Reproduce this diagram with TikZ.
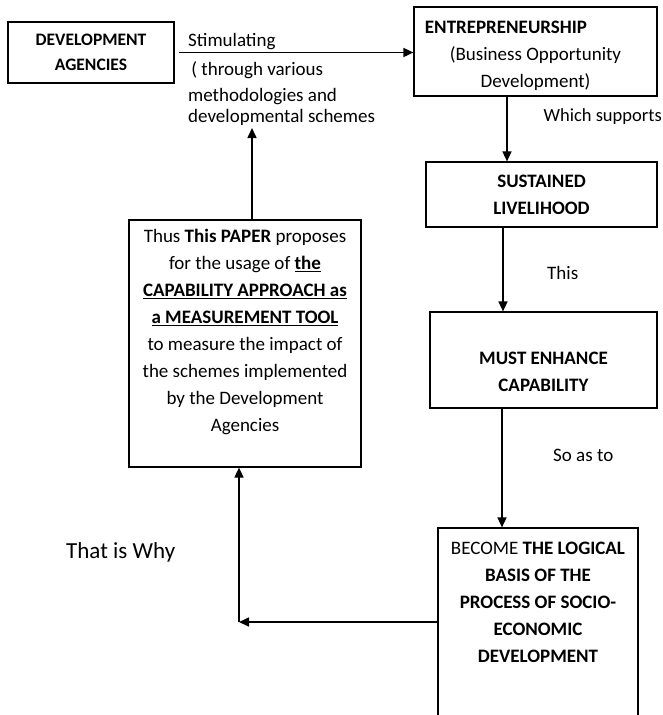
\documentclass[tikz,border=0pt]{standalone}
\usepackage{fontspec}
\setmainfont{Carlito}
\usetikzlibrary{arrows.meta, positioning}

\tikzset{
  box/.style={draw, line width=1.2pt, inner sep=0pt, align=center,
    font=\fontsize{19}{27}\selectfont},
  flow/.style={-{Triangle[length=10pt,width=9pt]}, line width=1.6pt},
  note/.style={inner sep=0pt, align=left, font=\fontsize{19}{26}\selectfont},
}

\begin{document}
\begin{tikzpicture}[x=1pt, y=-1pt]
  \useasboundingbox (0,0) rectangle (663,715);
  \clip (0,0) rectangle (663,715);
  % Boxes
  \node[box, minimum width=166pt, minimum height=61pt,
    font=\fontsize{17.5}{25}\selectfont] (dev) at (91,52.5)
    {\textbf{DEVELOPMENT}\\\textbf{AGENCIES}};
  \node[box, minimum width=243pt, minimum height=89pt] (ent) at (535.5,51.5)
    {\rule{0pt}{22pt}\textbf{ENTREPRENEURSHIP}\hspace*{59pt}\\(Business Opportunity\\Development)};
  \node[box, minimum width=231pt, minimum height=65pt] (sust) at (541.5,194.5)
    {\textbf{SUSTAINED}\\\textbf{LIVELIHOOD}};
  \node[box, minimum width=227pt, minimum height=96pt] (must) at (543.5,360)
    {\mbox{}\\[10pt]\textbf{MUST ENHANCE}\\\textbf{CAPABILITY}};
  \node[box, minimum width=232pt, minimum height=247pt] (cap) at (245,343.5)
    {Thus \textbf{This PAPER} proposes\\
     for the usage of \underline{\textbf{the}}\\
     \underline{\textbf{CAPABILITY APPROACH as}}\\
     \underline{\textbf{a MEASUREMENT TOOL}}\\
     to measure the impact of\\
     the schemes implemented\\
     by the Development\\
     Agencies\\\mbox{}};
  \node[box, minimum width=200pt, minimum height=230pt] (become) at (538,643)
    {BECOME \textbf{THE LOGICAL}\\\textbf{BASIS OF THE}\\
     \textbf{PROCESS OF SOCIO-}\\\textbf{ECONOMIC}\\\textbf{DEVELOPMENT}\\
     \mbox{}\\\mbox{}\\\mbox{}};
  % Labels
  \node[note, anchor=west] (stim) at (188,42) {Stimulating};
  \node[note, anchor=north west] (through) at (188,61)
    {\,( through various\\methodologies and\\[-5pt]developmental schemes};
  \node[note, anchor=east, font=\fontsize{18.5}{26}\selectfont] (supports) at (662,117) {Which supports};
  \node[note, anchor=west] (this) at (547,273) {This};
  \node[note, anchor=west] (soasto) at (553,455) {So as to};
  \node[note, anchor=west, font=\fontsize{23}{28}\selectfont] (why) at (66,552)
    {That is Why};
  \coordinate (turn) at (239,622);
  \coordinate (schemes) at (252,128);
  % Edges
  \draw[flow, shorten <=4pt] (dev.east) -- (dev.east -| ent.west);
  \draw[flow] (507,0 |- ent.south) -- (507,0 |- sust.north);
  \draw[flow] (503,0 |- sust.south) -- (503,0 |- must.north);
  \draw[flow] (502,0 |- must.south) -- (502,0 |- become.north);
  \draw[flow] (become.west |- turn) -- (turn);
  \draw[flow] (turn) -- (turn |- cap.south);
  \draw[flow] (252,0 |- cap.north) -- (schemes);
\end{tikzpicture}
\end{document}
